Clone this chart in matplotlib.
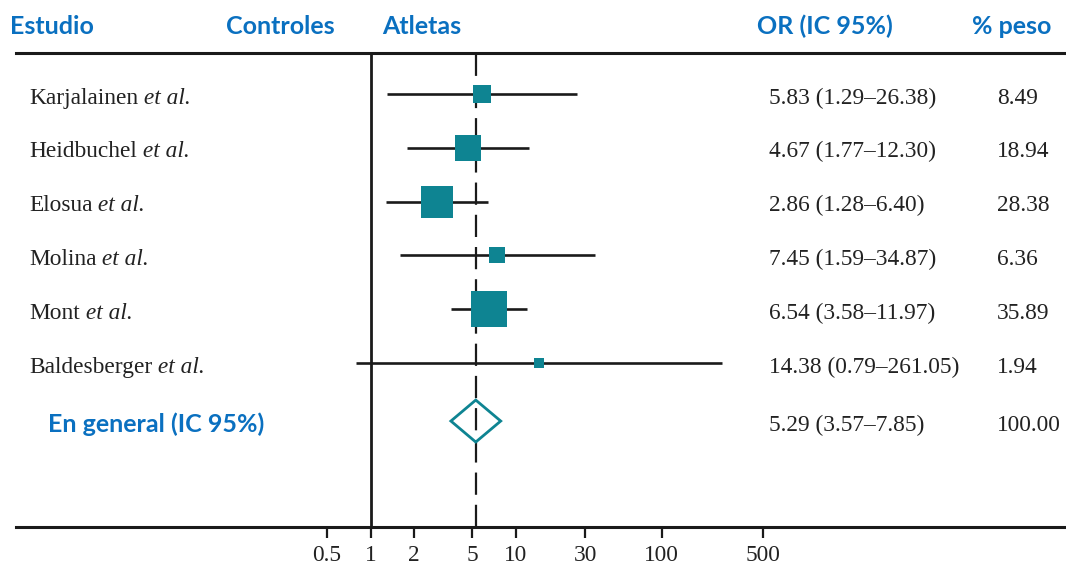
import numpy as np
import matplotlib
matplotlib.use("Agg")
import matplotlib.pyplot as plt
import matplotlib.transforms as mtransforms

# ---------- data ----------
studies = ["Karjalainen", "Heidbuchel", "Elosua", "Molina", "Mont", "Baldesberger"]
odds = [5.83, 4.67, 2.86, 7.45, 6.54, 14.38]
ci_low = [1.29, 1.77, 1.28, 1.59, 3.58, 0.79]
ci_high = [26.38, 12.30, 6.40, 34.87, 11.97, 261.05]
weights = [8.49, 18.94, 28.38, 6.36, 35.89, 1.94]

pooled_label = "En general (IC 95%)"
pooled_or = 5.29
pooled_low = 3.57
pooled_high = 7.85
pooled_weight = 100.00

ticks = [0.5, 1, 2, 5, 10, 30, 100, 500]
tick_labels = ["0.5", "1", "2", "5", "10", "30", "100", "500"]

headers = ["Estudio", "Controles", "Atletas", "OR (IC 95%)", "% peso"]

# ---------- layout / style ----------
W, H = 1066, 568
HEADER_X = [10, 226, 382, 757, 972]     # px from left
LABEL_X = 29
OR_X = 769
WEIGHT_X = 997
POOLED_Y = 6.08
BASE = 0.18                              # baseline offset (rows)
FS = 16.8                                # serif text size

TEAL = "#0e8492"
BLACK = "#1a1a1a"
BLUE = "#0a70c0"
GREY = "#222222"

plt.rcParams["font.family"] = ["Liberation Serif", "DejaVu Serif"]

fig = plt.figure(figsize=(W / 100, H / 100), dpi=100)
ax = fig.add_axes([16 / W, (H - 526.5) / H, 1050 / W, 474 / H])
ax.set_xscale("log")
# 1 sits at x=370.5 px, 145.5 px per decade
ax.set_xlim(10 ** ((16 - 370.5) / 145.5), 10 ** ((1066 - 370.5) / 145.5))
ax.set_ylim(8.04, -0.77)

y = np.arange(len(studies))

# reference lines
ax.axvline(1, color=BLACK, lw=2, zorder=1)
ax.axvline(pooled_or, color=BLACK, lw=1.6, ls=(0, (10, 4.5)), zorder=1)

# confidence intervals + weighted squares
ax.hlines(y, ci_low, ci_high, color=BLACK, lw=1.9, zorder=2)
for xi, yi, w in zip(odds, y, weights):
    side = 1.94 + 5.57 * np.sqrt(w)
    ax.plot(xi, yi, "s", ms=side * 0.72, color=TEAL, mew=0, zorder=3)

# pooled diamond
ax.fill([pooled_low, pooled_or, pooled_high, pooled_or],
        [POOLED_Y, POOLED_Y - 0.39, POOLED_Y, POOLED_Y + 0.39],
        fill=False, edgecolor=TEAL, lw=2, zorder=3)

# axis styling
for s in ["left", "right"]:
    ax.spines[s].set_visible(False)
for s in ["top", "bottom"]:
    ax.spines[s].set_linewidth(2.2)
    ax.spines[s].set_color(BLACK)
ax.set_xticks(ticks, tick_labels)
ax.xaxis.set_minor_locator(matplotlib.ticker.NullLocator())
ax.tick_params(axis="x", direction="out", length=8, width=1.6, pad=5,
               labelsize=16.8, colors=BLACK, labelcolor=GREY)
ax.set_yticks([])

# ---------- text columns ----------
trans = mtransforms.blended_transform_factory(fig.transFigure, ax.transData)
for name, yi, oi, lo, hi, w in zip(studies, y, odds, ci_low, ci_high, weights):
    t = ax.text(LABEL_X / W, yi + BASE, name, transform=trans, va="baseline",
                ha="left", fontsize=FS, color=GREY)
    ax.annotate(" et al.", xy=(1, 0), xycoords=t, va="bottom", ha="left",
                fontsize=FS, fontstyle="italic", color=GREY)
    ax.text(OR_X / W, yi + BASE, f"{oi:.2f} ({lo:.2f}\u2013{hi:.2f})",
            transform=trans, va="baseline", fontsize=FS, color=GREY)
    ax.text(WEIGHT_X / W, yi + BASE, f"{w:.2f}", transform=trans,
            va="baseline", fontsize=FS, color=GREY)

ax.text(48 / W, POOLED_Y + 0.2, pooled_label, transform=trans, va="baseline",
        family="Lato", weight="bold", fontsize=18, color=BLUE)
ax.text(OR_X / W, POOLED_Y + BASE,
        f"{pooled_or:.2f} ({pooled_low:.2f}\u2013{pooled_high:.2f})",
        transform=trans, va="baseline", fontsize=FS, color=GREY)
ax.text(WEIGHT_X / W, POOLED_Y + BASE, f"{pooled_weight:.2f}", transform=trans,
        va="baseline", fontsize=FS, color=GREY)

for hx, htxt in zip(HEADER_X, headers):
    fig.text(hx / W, 1 - 34.5 / H, htxt, va="baseline", ha="left",
             family="Lato", weight="bold", fontsize=18, color=BLUE)

fig.savefig("out.png", dpi=100)
